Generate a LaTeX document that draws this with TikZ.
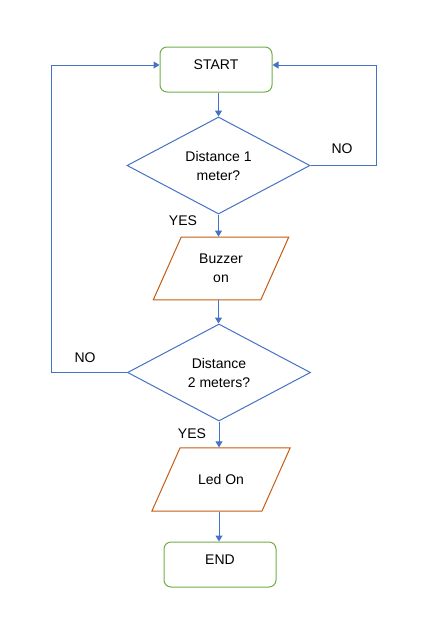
\documentclass[tikz,border=0pt]{standalone}
\usepackage{fontspec}
\setmainfont{Liberation Sans}
\usetikzlibrary{
    arrows.meta,
    calc,
    positioning,
    shapes.geometric
}
\definecolor{flowblue}{HTML}{4472C4}
\definecolor{termgreen}{HTML}{70AD47}
\definecolor{ioorange}{HTML}{C55A11}
\tikzset{
    every picture/.style = {
        > = {Triangle[width = 7pt, length = 6pt]},
        line width = 1pt
    },
    every node/.style = {
        inner sep = 1pt,
        align = center,
        font = \fontsize{14}{19}\selectfont
    },
    terminal/.style = {
        draw = termgreen,
        rectangle,
        rounded corners = 7pt,
        minimum width = 112pt,
        minimum height = 45pt,
        text height = 10pt,
        text depth = 11pt
    },
    decision/.style = {
        draw = flowblue,
        diamond,
        inner sep = 0pt,
        minimum width = 183pt,
        minimum height = 97pt
    },
    io/.style = {
        draw = ioorange,
        trapezium,
        trapezium left angle = 66,
        trapezium right angle = 114,
        inner xsep = 18pt,
        inner ysep = 17pt
    },
    flow/.style = {
        draw = flowblue,
        ->
    }
}

\begin{document}
\begin{tikzpicture}[x = 1pt, y = -1pt]
    \useasboundingbox (0, 0) rectangle (437, 621);

    \node[terminal] (start) at (216, 69.5) {START};
    \node[decision] (dist1) at (218.5, 165.5) {Distance 1\\meter?};
    \node[io] (buzzer) at (221, 268.5) {Buzzer\\on};
    \node[decision] (dist2) at (219, 372.5) {Distance\\2 meters?};
    \node[io, inner ysep = 26.5pt] (led) at (221, 479.5) {Led On};
    \node[terminal] (end) at (220, 564.5) {END};

    \coordinate (rightrail) at (376, 165.5);
    \coordinate (leftrail) at (51, 372.5);

    \node (no1) at (342, 149) {NO};
    \node (yes1) at (183, 221) {YES};
    \node (no2) at (85, 358) {NO};
    \node (yes2) at (192, 434) {YES};

    \path[flow] (start.south -| dist1.north) -- (dist1.north);
    \path[flow] (dist1.south) -- (dist1.south |- buzzer.north);
    \path[flow] (dist1.south |- buzzer.south) -- (dist2.north -| dist1.south);
    \path[flow] (dist2.south) -- (dist2.south |- led.north);
    \path[flow] (dist2.south |- led.south) -- (dist2.south |- end.north);

    % NO branches back to START
    \path[flow] (dist1.east) -- (rightrail) |- ([yshift = 4.5pt]start.east);
    \path[flow] (dist2.west) -- (leftrail) |- ([yshift = 4.5pt]start.west);
\end{tikzpicture}
\end{document}
